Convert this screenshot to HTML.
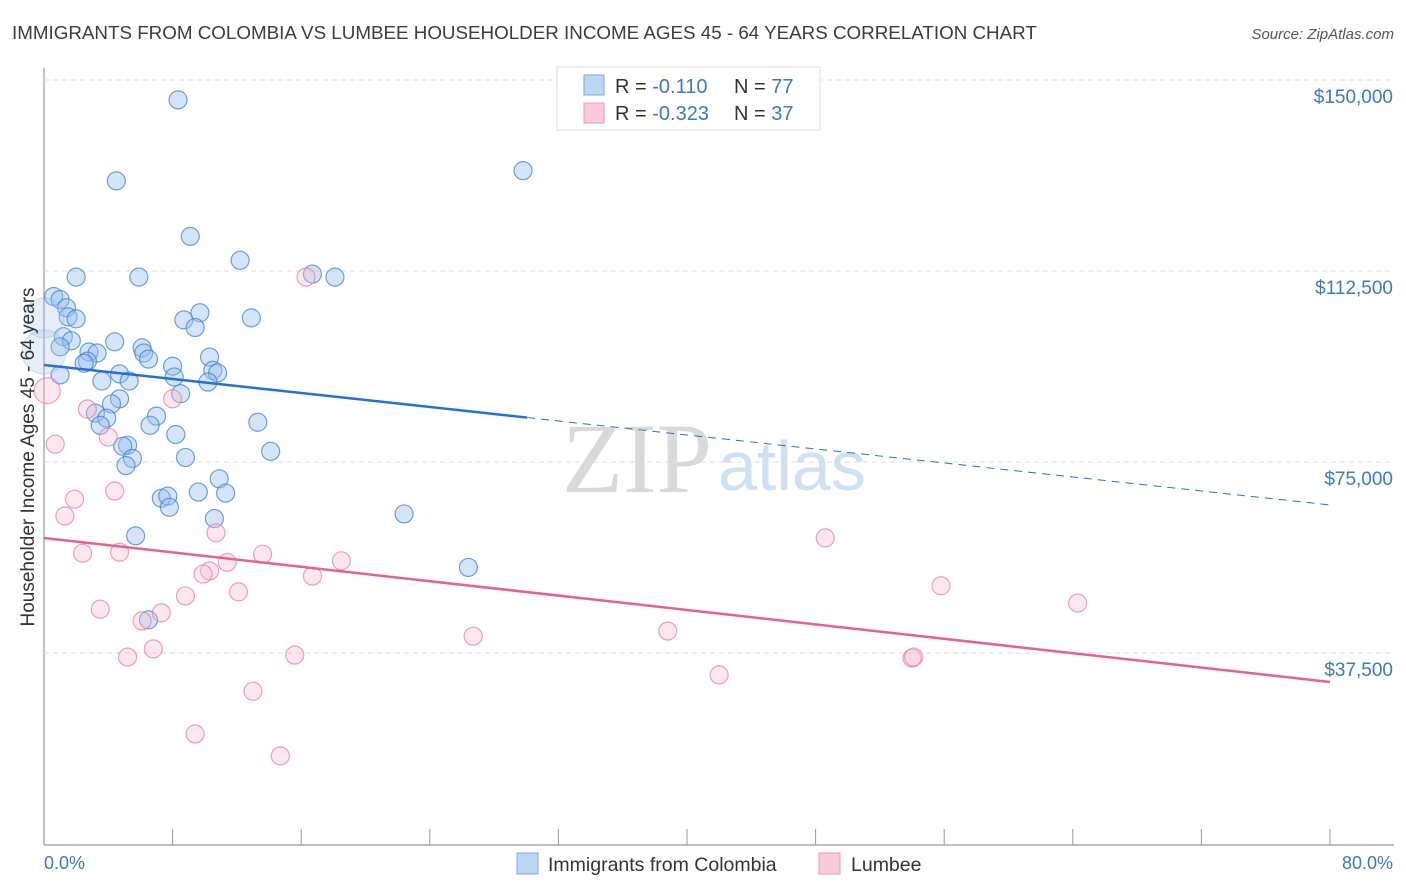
<!DOCTYPE html>
<html><head><meta charset="utf-8"><style>
body{margin:0;background:#fff;font-family:"Liberation Sans",sans-serif;}
svg{display:block}
</style></head><body>
<svg id="chart" width="1406" height="892">
<text x="12" y="39" font-size="18.8" fill="#3c3c3c">IMMIGRANTS FROM COLOMBIA VS LUMBEE HOUSEHOLDER INCOME AGES 45 - 64 YEARS CORRELATION CHART</text>
<text x="1394" y="39" font-size="15" fill="#555" font-style="italic" text-anchor="end">Source: ZipAtlas.com</text>
<g id="grid"></g>
<text x="712" y="492" font-family="Liberation Serif,serif" font-size="100" fill="#d9d9d9" text-anchor="end">ZIP</text>
<text x="718" y="490" font-size="70" fill="#cfe0f3">atlas</text>
<g id="points"></g>
<g id="lines"></g>
<text transform="translate(34,457) rotate(-90)" font-size="19" fill="#333" text-anchor="middle">Householder Income Ages 45 - 64 years</text>
<text x="44" y="869" font-size="18" fill="#3a78c9">0.0%</text>
<text x="1393" y="869" font-size="18" fill="#3a78c9" text-anchor="end">80.0%</text>
<g>
<rect x="557" y="67" width="263" height="63" fill="#fff" stroke="#ddd"/>
<rect x="584" y="75" width="20" height="20" fill="#bcd6f5" stroke="#7aa8e0"/>
<rect x="584" y="103" width="20" height="20" fill="#f9cbd9" stroke="#ee9ab5"/>
<text x="615" y="93" font-size="20" fill="#333">R = <tspan fill="#3a78c9">-0.110</tspan><tspan x="734">N = </tspan><tspan fill="#3a78c9">77</tspan></text>
<text x="615" y="120" font-size="20" fill="#333">R = <tspan fill="#3a78c9">-0.323</tspan><tspan x="734">N = </tspan><tspan fill="#3a78c9">37</tspan></text>
</g>
<g>
<rect x="517" y="853" width="21" height="21" fill="#bcd6f5" stroke="#7aa8e0"/>
<text x="548" y="871" font-size="19.5" fill="#333">Immigrants from Colombia</text>
<rect x="819" y="853" width="21" height="21" fill="#f9cbd9" stroke="#ee9ab5"/>
<text x="851" y="871" font-size="19.5" fill="#333">Lumbee</text>
</g>
</svg>
<script>
const yTicks=[37500,75000,112500,150000];
const yTickLabels=["$37,500","$75,000","$112,500","$150,000"];
const xTicks=[0,8,16,24,32,40,48,56,64,72,80];
const blueX=[8.34,4.5,29.8,9.1,12.2,2.0,5.9,18.1,16.7,0.6,1.0,1.4,1.5,2.0,8.7,9.7,9.4,12.9,1.2,1.7,4.4,6.1,6.2,2.8,3.3,2.7,2.5,6.5,8.0,10.3,10.5,10.8,1.0,3.6,4.7,5.3,8.1,10.2,8.5,4.7,4.2,3.2,7.0,3.9,6.6,13.3,3.5,5.2,8.2,4.9,5.5,8.8,5.1,14.1,10.9,9.6,7.3,7.7,7.8,11.3,10.6,22.4,5.7,26.4,6.5,1.0,0.0,0.0];
const blueY=[146100,130200,132200,119300,114600,111300,111300,111300,111900,107500,106900,105300,103500,103100,102900,104300,101400,103300,99600,98800,98600,97400,96400,96600,96400,94800,94400,95200,93800,95600,93000,92500,92100,90900,92300,90900,91700,90700,88400,87400,86400,84600,84000,83600,82200,82800,82200,78300,80400,78100,75700,75900,74300,77100,71700,69100,67900,68300,66100,68900,63900,64800,60500,54300,44000,97600,103300,96600];
const blueR=[9,9,9,9,9,9,9,9,9,9,9,9,9,9,9,9,9,9,9,9,9,9,9,9,9,9,9,9,9,9,9,9,9,9,9,9,9,9,9,9,9,9,9,9,9,9,9,9,9,9,9,9,9,9,9,9,9,9,9,9,9,9,9,9,9,9,20,22];
const pinkX=[16.3,0.2,8.0,2.7,4.0,0.7,4.4,1.9,1.3,10.7,2.4,4.7,13.6,11.4,18.5,10.3,9.9,16.7,48.6,55.8,8.8,12.1,3.5,7.3,6.1,64.3,26.7,38.8,6.8,5.2,15.6,54.0,54.1,42.0,13.0,9.4,14.7];
const pinkY=[111300,89000,87400,85400,79900,78500,69300,67700,64400,61100,57100,57300,56900,55300,55600,53600,53000,52600,60100,50700,48700,49500,46100,45400,43800,47300,40800,41800,38300,36700,37100,36500,36700,33200,30000,21600,17300];
const pinkR=[9,13,9,9,9,9,9,9,9,9,9,9,9,9,9,9,9,9,9,9,9,9,9,9,9,9,9,9,9,9,9,9,9,9,9,9,9];
const blueLine=[94050,66560];
const pinkLine=[60080,31810];
const blueSolidEnd=30.05;

const NS="http://www.w3.org/2000/svg";
const xs=p=>44+p/80*1286;
const ys=v=>844-v*191/37500;
function mk(tag,attrs,parent){const e=document.createElementNS(NS,tag);for(const k in attrs)e.setAttribute(k,attrs[k]);parent.appendChild(e);return e;}
const grid=document.getElementById('grid');
const axisL=mk('line',{x1:44,y1:68,x2:44,y2:845,stroke:'#999','stroke-width':1.2},grid);


const axisB=mk('line',{x1:44,y1:845,x2:1394,y2:845,stroke:'#999','stroke-width':1.2},grid);


xTicks.forEach(t=>{const l=mk('line',{x1:xs(t),y1:829,x2:xs(t),y2:845,stroke:'#999'},grid);

});
yTicks.forEach((t,i)=>{const l=mk('line',{x1:44,y1:ys(t),x2:1394,y2:ys(t),stroke:'#ddd','stroke-dasharray':'5,4'},grid);


const tx=mk('text',{x:1393,y:ys(t)+23,'font-size':19,fill:'#3a78c9','text-anchor':'end'},grid);tx.textContent=yTickLabels[i];

});
const pts=document.getElementById('points');
blueX.forEach((x,i)=>{const big=blueR[i]>15;const c=mk('circle',{cx:xs(x),cy:ys(blueY[i]),r:blueR[i],fill:big?'rgba(170,200,240,0.3)':'rgba(150,190,240,0.4)',stroke:big?'rgba(120,165,225,0.3)':'rgba(60,130,215,0.75)','stroke-width':1.2},pts);

});
pinkX.forEach((x,i)=>{const c=mk('circle',{cx:xs(x),cy:ys(pinkY[i]),r:pinkR[i],fill:'rgba(248,185,205,0.35)',stroke:'rgba(232,120,160,0.7)','stroke-width':1.2},pts);

});
const ln=document.getElementById('lines');
const bAt=p=>blueLine[0]+(blueLine[1]-blueLine[0])*p/80;
const b1=mk('line',{x1:xs(0),y1:ys(bAt(0)),x2:xs(blueSolidEnd),y2:ys(bAt(blueSolidEnd)),stroke:'#2470d8','stroke-width':2.5},ln);


const b2=mk('line',{x1:xs(blueSolidEnd),y1:ys(bAt(blueSolidEnd)),x2:xs(80),y2:ys(bAt(80)),stroke:'#2470d8','stroke-width':1,'stroke-dasharray':'8,6'},ln);


const p1=mk('line',{x1:xs(0),y1:ys(pinkLine[0]),x2:xs(80),y2:ys(pinkLine[1]),stroke:'#e5628f','stroke-width':2.5},ln);


</script>
</body></html>
